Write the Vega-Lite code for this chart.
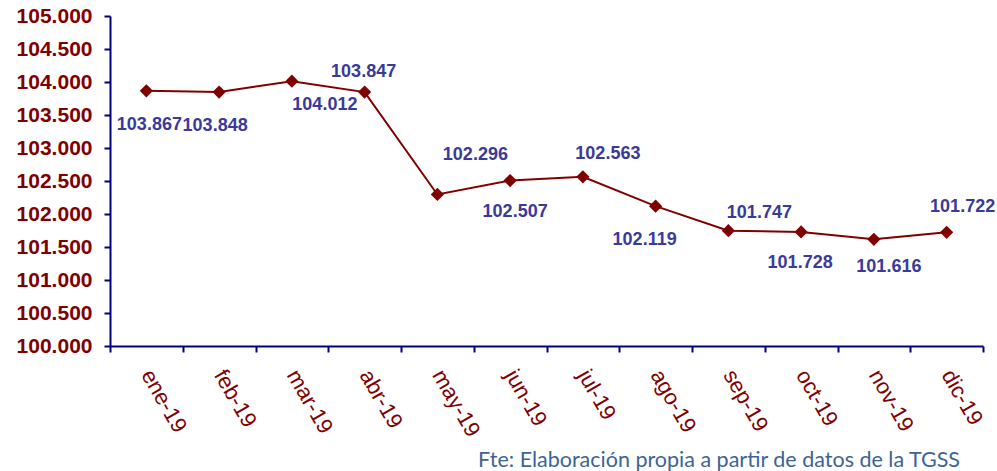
{
  "$schema": "https://vega.github.io/schema/vega-lite/v6.json",
  "width": 873,
  "height": 330,
  "autosize": "none",
  "padding": {"left": 110, "top": 16, "right": 14, "bottom": 125},
  "background": "white",
  "config": {
    "view": {"stroke": null},
    "locale": {"number": {"decimal": ",", "thousands": ".", "grouping": [3], "currency": ["", " €"]}}
  },
  "title": {
    "text": "Fte: Elaboración propia a partir de datos de la TGSS",
    "orient": "bottom",
    "anchor": "end",
    "frame": "group",
    "dx": -23,
    "offset": 10,
    "font": "Lato",
    "fontSize": 21.5,
    "fontWeight": "normal",
    "color": "#3d6496"
  },
  "data": {
    "values": [
      {"mes": "ene-19", "afiliados": 103867},
      {"mes": "feb-19", "afiliados": 103848},
      {"mes": "mar-19", "afiliados": 104012},
      {"mes": "abr-19", "afiliados": 103847},
      {"mes": "may-19", "afiliados": 102296},
      {"mes": "jun-19", "afiliados": 102507},
      {"mes": "jul-19", "afiliados": 102563},
      {"mes": "ago-19", "afiliados": 102119},
      {"mes": "sep-19", "afiliados": 101747},
      {"mes": "oct-19", "afiliados": 101728},
      {"mes": "nov-19", "afiliados": 101616},
      {"mes": "dic-19", "afiliados": 101722}
    ]
  },
  "encoding": {
    "x": {
      "field": "mes",
      "type": "nominal",
      "sort": null,
      "scale": {"type": "band", "paddingInner": 0, "paddingOuter": 0},
      "axis": {
        "title": null,
        "tickBand": "extent",
        "domainColor": "#000080",
        "domainWidth": 2,
        "tickColor": "#000080",
        "tickWidth": 2,
        "tickSize": 6,
        "labelAngle": 60,
        "labelAlign": "left",
        "labelBaseline": "middle",
        "labelPadding": 19,
        "labelFont": "Liberation Sans",
        "labelFontSize": 22,
        "labelColor": "#800000",
        "grid": false
      }
    },
    "y": {
      "field": "afiliados",
      "type": "quantitative",
      "scale": {"domain": [100000, 105000], "zero": false, "nice": false},
      "axis": {
        "title": null,
        "values": [100000, 100500, 101000, 101500, 102000, 102500, 103000, 103500, 104000, 104500, 105000],
        "format": ",d",
        "domainColor": "#000080",
        "domainWidth": 2,
        "tickColor": "#000080",
        "tickWidth": 2,
        "tickSize": 6,
        "labelFont": "Liberation Sans",
        "labelFontSize": 21,
        "labelFontWeight": "bold",
        "labelColor": "#800000",
        "labelPadding": 12,
        "grid": false
      }
    }
  },
  "layer": [
    {"mark": {"type": "line", "color": "#800000", "strokeWidth": 2}},
    {"mark": {"type": "point", "shape": "diamond", "filled": true, "opacity": 1, "color": "#800000", "size": 175}},
    {"transform": [{"filter": {"field": "mes", "equal": "ene-19"}}], "mark": {"type": "text", "dx": 3, "dy": 34, "font": "Liberation Sans", "fontSize": 18, "fontWeight": "bold", "color": "#3a3a9a", "baseline": "middle"}, "encoding": {"text": {"field": "afiliados", "type": "quantitative", "format": ",d"}}},
    {"transform": [{"filter": {"field": "mes", "equal": "feb-19"}}], "mark": {"type": "text", "dx": -4, "dy": 34, "font": "Liberation Sans", "fontSize": 18, "fontWeight": "bold", "color": "#3a3a9a", "baseline": "middle"}, "encoding": {"text": {"field": "afiliados", "type": "quantitative", "format": ",d"}}},
    {"transform": [{"filter": {"field": "mes", "equal": "mar-19"}}], "mark": {"type": "text", "dx": 33, "dy": 24, "font": "Liberation Sans", "fontSize": 18, "fontWeight": "bold", "color": "#3a3a9a", "baseline": "middle"}, "encoding": {"text": {"field": "afiliados", "type": "quantitative", "format": ",d"}}},
    {"transform": [{"filter": {"field": "mes", "equal": "abr-19"}}], "mark": {"type": "text", "dx": -1, "dy": -20, "font": "Liberation Sans", "fontSize": 18, "fontWeight": "bold", "color": "#3a3a9a", "baseline": "middle"}, "encoding": {"text": {"field": "afiliados", "type": "quantitative", "format": ",d"}}},
    {"transform": [{"filter": {"field": "mes", "equal": "may-19"}}], "mark": {"type": "text", "dx": 38, "dy": -39, "font": "Liberation Sans", "fontSize": 18, "fontWeight": "bold", "color": "#3a3a9a", "baseline": "middle"}, "encoding": {"text": {"field": "afiliados", "type": "quantitative", "format": ",d"}}},
    {"transform": [{"filter": {"field": "mes", "equal": "jun-19"}}], "mark": {"type": "text", "dx": 5, "dy": 31, "font": "Liberation Sans", "fontSize": 18, "fontWeight": "bold", "color": "#3a3a9a", "baseline": "middle"}, "encoding": {"text": {"field": "afiliados", "type": "quantitative", "format": ",d"}}},
    {"transform": [{"filter": {"field": "mes", "equal": "jul-19"}}], "mark": {"type": "text", "dx": 25, "dy": -23, "font": "Liberation Sans", "fontSize": 18, "fontWeight": "bold", "color": "#3a3a9a", "baseline": "middle"}, "encoding": {"text": {"field": "afiliados", "type": "quantitative", "format": ",d"}}},
    {"transform": [{"filter": {"field": "mes", "equal": "ago-19"}}], "mark": {"type": "text", "dx": -11, "dy": 34, "font": "Liberation Sans", "fontSize": 18, "fontWeight": "bold", "color": "#3a3a9a", "baseline": "middle"}, "encoding": {"text": {"field": "afiliados", "type": "quantitative", "format": ",d"}}},
    {"transform": [{"filter": {"field": "mes", "equal": "sep-19"}}], "mark": {"type": "text", "dx": 31, "dy": -18, "font": "Liberation Sans", "fontSize": 18, "fontWeight": "bold", "color": "#3a3a9a", "baseline": "middle"}, "encoding": {"text": {"field": "afiliados", "type": "quantitative", "format": ",d"}}},
    {"transform": [{"filter": {"field": "mes", "equal": "oct-19"}}], "mark": {"type": "text", "dx": -1, "dy": 31, "font": "Liberation Sans", "fontSize": 18, "fontWeight": "bold", "color": "#3a3a9a", "baseline": "middle"}, "encoding": {"text": {"field": "afiliados", "type": "quantitative", "format": ",d"}}},
    {"transform": [{"filter": {"field": "mes", "equal": "nov-19"}}], "mark": {"type": "text", "dx": 15, "dy": 28, "font": "Liberation Sans", "fontSize": 18, "fontWeight": "bold", "color": "#3a3a9a", "baseline": "middle"}, "encoding": {"text": {"field": "afiliados", "type": "quantitative", "format": ",d"}}},
    {"transform": [{"filter": {"field": "mes", "equal": "dic-19"}}], "mark": {"type": "text", "dx": 16, "dy": -25, "font": "Liberation Sans", "fontSize": 18, "fontWeight": "bold", "color": "#3a3a9a", "baseline": "middle"}, "encoding": {"text": {"field": "afiliados", "type": "quantitative", "format": ",d"}}}
  ]
}
